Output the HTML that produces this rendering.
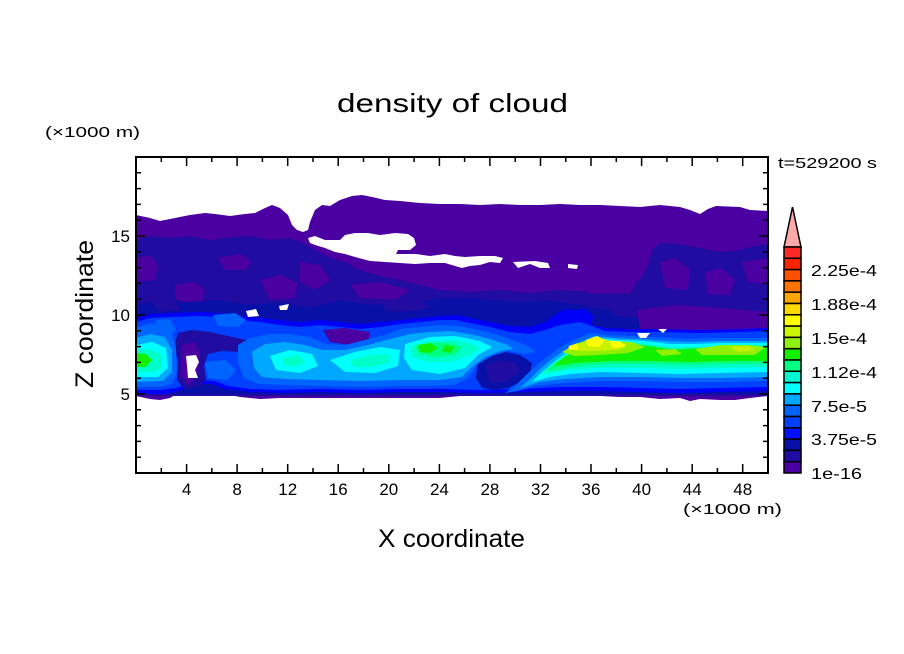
<!DOCTYPE html>
<html><head><meta charset="utf-8"><style>
html,body{margin:0;padding:0;background:#fff;}
svg{display:block;}
text{font-family:"Liberation Sans",sans-serif;fill:#000;}
</style></head><body>
<svg width="904" height="654" viewBox="0 0 904 654" xmlns="http://www.w3.org/2000/svg">
<defs><clipPath id="pc"><rect x="136" y="157" width="632" height="316"/></clipPath></defs>
<rect width="904" height="654" fill="#fff"/>
<g clip-path="url(#pc)">
<polygon fill="#4b00a2" points="136,215 150,218 160,221 175,218 190,215 205,213 215,214 230,216 245,214 255,213 265,208 272,205 280,208 288,215 292,225 297,230 303,232 308,230 310,222 315,210 322,205 330,206 340,200 352,196 362,195 372,197 385,200 400,201 420,203 440,204 460,204 480,205 500,204 520,205 540,205 560,204 580,205 600,205 620,206 640,207 660,205 680,207 690,210 700,214 708,209 716,206 740,207 750,210 768,211 768,396 750,398 735,400 720,400 700,399 690,401 680,398 660,399 640,397 620,397 600,396 585,396 570,394 555,393 540,394 520,394 500,393 480,394 460,396 440,398 420,398 400,398 380,398 360,398 340,398 320,398 300,398 280,398 260,399 240,397 225,394 218,391 212,386 205,383 195,382 185,384 178,388 175,395 170,398 160,400 150,399 136,396"/>
<polygon fill="#200ca0" points="136,240 150,236 170,238 190,236 210,240 230,237 250,236 270,240 290,238 305,244 315,250 330,258 345,262 360,270 380,276 400,280 420,285 440,290 470,292 500,290 530,293 560,290 590,292 620,288 640,280 648,265 652,250 660,243 680,244 700,248 720,252 740,250 755,246 768,244 768,396 136,396"/>
<g fill="#4b00a2">
<polygon points="136,258 150,255 158,265 155,280 136,282"/>
<polygon points="175,285 195,282 205,290 202,305 185,308 176,298"/>
<polygon points="260,280 280,275 298,283 295,298 270,300"/>
<polygon points="218,258 240,254 252,262 245,270 225,270"/>
<polygon points="300,262 320,265 330,280 315,290 300,282"/>
<polygon points="660,262 675,258 690,270 688,290 665,288"/>
<polygon points="705,272 722,268 735,280 730,295 708,294"/>
<polygon points="742,262 768,258 768,285 748,282"/>
<polygon points="577,280 600,276 637,282 630,293 590,294"/>
<polygon points="350,285 380,282 410,290 395,300 360,298"/>
</g>
<polygon fill="#0810a8" points="136,305 160,300 190,302 220,300 250,305 280,302 310,308 340,300 370,305 400,303 430,300 460,298 490,300 520,302 550,300 580,305 610,310 640,318 680,322 720,322 768,322 768,394 136,394"/>
<g fill="#200ca0">
<polygon points="150,300 175,298 180,310 160,312"/>
<polygon points="380,300 420,298 430,308 400,312 385,310"/>
<polygon points="600,300 630,302 640,318 615,316"/>
</g>
<polygon fill="#4b00a2" points="637,310 680,305 720,308 768,312 768,330 700,331 640,330"/>
<polygon fill="#0000f8" points="136,318 150,314 170,313 200,312 220,313 240,316 260,318 280,320 300,322 320,320 340,322 360,324 380,322 400,320 420,318 440,316 456,315 470,318 490,322 510,326 530,327 545,322 555,315 562,310 585,309 593,316 592,325 605,328 630,329 660,329 700,330 740,329 768,328 768,391 720,392 680,393 640,392 600,391 560,391 520,392 480,393 440,392 400,392 360,393 320,392 280,393 250,392 225,389 212,384 200,384 190,388 178,391 165,394 150,394 136,393"/>
<polygon fill="#0040ff" points="136,322 150,318 170,317 200,316 220,317 240,320 260,322 280,325 300,327 320,325 340,327 360,329 380,327 400,324 420,322 440,320 456,320 470,323 490,327 510,332 530,334 545,330 560,325 580,322 592,326 605,331 630,332 660,332 700,333 740,332 768,331 768,387 720,388 680,389 640,388 600,387 560,387 520,389 480,390 440,389 400,389 360,390 320,389 280,390 250,389 228,386 215,381 200,380 188,384 176,388 160,390 136,390"/>
<polygon fill="#200ca0" points="178,333 192,330 210,332 228,336 246,340 252,348 240,352 222,351 208,354 204,366 206,380 198,387 184,389 177,380 178,362 174,346"/>
<polygon fill="#4b00a2" points="182,345 195,342 200,355 198,375 188,385 180,375"/>
<polygon fill="#0810a8" points="478,362 490,356 505,352 520,355 532,363 530,374 520,382 508,388 494,390 482,388 476,378"/>
<polygon fill="#200ca0" points="485,365 500,360 515,362 520,372 505,382 490,382"/>
<polygon fill="#4b00a2" points="323,330 345,328 370,332 368,342 350,345 330,342"/>
<g fill="#0064ff">
<polygon points="136,328 148,324 162,323 172,332 176,348 177,372 172,384 160,387 136,387"/>
<polygon points="238,345 250,338 270,334 290,334 310,337 325,344 345,345 365,340 385,335 400,329 420,327 440,325 458,326 475,329 495,334 512,340 528,346 536,352 524,354 508,351 492,356 478,364 468,378 455,385 430,386 400,386 360,387 320,386 285,385 258,384 244,378 238,362"/>
<polygon points="505,393 515,386 525,376 536,366 548,356 562,346 576,339 590,333 610,335 630,336 650,337 670,338 690,339 720,338 745,338 768,338 768,381 720,382 680,382 640,381 600,381 565,383 535,386 518,391"/>
<polygon points="156,320 170,319 176,330 165,337 156,332"/>
<polygon points="213,315 235,313 246,320 238,327 218,326"/>
<polygon points="205,362 225,360 236,370 228,380 208,378"/>
</g>
<g fill="#00a8ff">
<polygon points="136,338 150,334 165,337 172,350 172,372 163,381 136,382"/>
<polygon points="252,352 265,344 285,342 305,345 322,350 345,350 368,345 390,339 410,334 430,332 450,331 470,334 490,339 508,345 513,349 500,351 485,357 472,367 462,377 440,380 400,380 360,381 320,380 285,379 262,377 254,368"/>
<polygon points="520,388 530,379 540,369 552,359 565,350 580,342 594,336 615,338 640,339 665,341 690,342 720,341 745,341 768,341 768,377 720,378 680,378 640,377 600,377 565,379 540,382"/>
</g>
<g fill="#00ffff">
<polygon points="136,345 152,342 166,348 168,368 158,377 136,377"/>
<polygon points="270,356 290,350 312,354 318,366 300,373 276,370"/>
<polygon points="330,360 355,352 380,347 400,350 398,366 375,373 345,372"/>
<polygon points="405,344 430,337 455,336 480,341 492,347 478,355 465,368 440,374 412,370 404,358"/>
<polygon points="532,382 542,372 554,362 567,352 582,344 595,338 620,340 645,341 670,344 695,344 720,343 745,343 768,343 768,372 720,373 680,374 640,373 600,372 570,374 550,377"/>
</g>
<g fill="#00ffc8">
<polygon points="136,350 150,349 162,355 162,368 152,372 136,372"/>
<polygon points="282,358 298,355 306,362 296,367 284,365"/>
<polygon points="350,360 370,355 388,354 390,362 372,367 354,367"/>
<polygon points="410,346 430,341 455,340 472,344 480,349 468,356 450,362 428,362 412,357"/>
<polygon points="540,375 552,364 565,355 578,347 592,341 620,342 648,344 672,347 695,347 720,346 745,345 768,345 768,367 720,368 680,369 640,368 600,368 570,370 552,373"/>
</g>
<g fill="#00ff80">
<polygon points="415,346 432,343 450,343 462,347 455,355 435,357 418,354"/>
<polygon points="545,371 558,361 572,352 586,344 620,344 650,346 675,349 700,348 725,347 768,346 768,364 725,364 690,365 650,364 610,364 580,366 560,369"/>
</g>
<g fill="#10f000">
<polygon points="136,353 146,354 152,360 146,367 136,367"/>
<polygon points="418,345 430,343 438,348 430,353 420,352"/>
<polygon points="445,345 455,347 450,353 442,351"/>
<polygon points="553,366 566,356 580,347 595,341 620,343 648,346 672,350 700,348 730,347 768,347 768,361 730,361 690,362 650,361 610,361 575,363"/>
</g>
<g fill="#90f000">
<polygon points="562,352 578,343 595,338 612,341 632,342 645,347 628,353 600,355 575,356"/>
<polygon points="695,349 722,345 748,345 766,347 755,355 725,355 702,355"/>
<polygon points="655,350 675,349 682,354 662,356"/>
</g>
<g fill="#c8f000">
<polygon points="572,347 590,340 600,338 614,342 628,344 618,350 596,351 578,351"/>
<polygon points="730,347 748,346 756,350 738,352"/>
</g>
<g fill="#ffff00">
<polygon points="586,340 597,336 605,340 599,347 588,346"/>
<polygon points="609,341 620,341 626,347 613,348"/>
<polygon points="569,346 578,343 578,350 568,350"/>
</g>
<g fill="#fff">
<polygon points="308,238 315,236 325,240 340,240 345,235 355,233 368,233 380,235 395,233 408,234 414,238 416,245 410,250 398,250 396,254 416,254 430,256 445,254 455,256 465,257 480,256 495,256 503,258 500,263 490,262 480,265 470,266 462,268 455,266 445,263 430,263 415,264 400,263 385,262 370,261 355,257 345,254 335,252 325,248 315,245 310,243"/>
<polygon points="513,262 535,261 548,263 550,268 540,268 530,264 518,268"/>
<polygon points="568,264 578,265 577,269 568,268"/>
<polygon points="246,311 256,309 259,316 248,317"/>
<polygon points="279,306 289,304 287,310 280,310"/>
<polygon points="637,333 650,333 646,338 640,338"/>
<polygon points="658,329 667,329 663,333"/>
<polygon points="186,356 196,355 199,362 195,370 198,378 188,378 187,366"/>
</g>
</g>
<rect x="136" y="157" width="632" height="316" fill="none" stroke="#000" stroke-width="2"/>
<g stroke="#000" stroke-width="1.5">
<path d="M161.3,473v-5M186.6,473v-9M211.8,473v-5M237.1,473v-9M262.4,473v-5M287.7,473v-9M313,473v-5M338.2,473v-9M363.5,473v-5M388.8,473v-9M414.1,473v-5M439.4,473v-9M464.6,473v-5M489.9,473v-9M515.2,473v-5M540.5,473v-9M565.8,473v-5M591,473v-9M616.3,473v-5M641.6,473v-9M666.9,473v-5M692.2,473v-9M717.4,473v-5M742.7,473v-9"/>
<path d="M161.3,157v5M186.6,157v9M211.8,157v5M237.1,157v9M262.4,157v5M287.7,157v9M313,157v5M338.2,157v9M363.5,157v5M388.8,157v9M414.1,157v5M439.4,157v9M464.6,157v5M489.9,157v9M515.2,157v5M540.5,157v9M565.8,157v5M591,157v9M616.3,157v5M641.6,157v9M666.9,157v5M692.2,157v9M717.4,157v5M742.7,157v9"/>
<path d="M136,457.2h5M136,441.4h5M136,425.6h5M136,409.8h5M136,394h9M136,378.2h5M136,362.4h5M136,346.6h5M136,330.8h5M136,315h9M136,299.2h5M136,283.4h5M136,267.6h5M136,251.8h5M136,236h9M136,220.2h5M136,204.4h5M136,188.6h5M136,172.8h5"/>
<path d="M768,457.2h-5M768,441.4h-5M768,425.6h-5M768,409.8h-5M768,394h-9M768,378.2h-5M768,362.4h-5M768,346.6h-5M768,330.8h-5M768,315h-9M768,299.2h-5M768,283.4h-5M768,267.6h-5M768,251.8h-5M768,236h-9M768,220.2h-5M768,204.4h-5M768,188.6h-5M768,172.8h-5"/>
</g>
<polygon points="784,247 801,247 792.5,207" fill="#ffa8a8" stroke="#000" stroke-width="1.5"/>
<g stroke="#000" stroke-width="1.5">
<rect x="784" y="247" width="17" height="11.3" fill="#ff2828"/>
<rect x="784" y="258.3" width="17" height="11.3" fill="#ff2400"/>
<rect x="784" y="269.6" width="17" height="11.3" fill="#ff5000"/>
<rect x="784" y="280.9" width="17" height="11.3" fill="#ff7400"/>
<rect x="784" y="292.2" width="17" height="11.3" fill="#ffa400"/>
<rect x="784" y="303.5" width="17" height="11.3" fill="#ffd800"/>
<rect x="784" y="314.8" width="17" height="11.3" fill="#ffff00"/>
<rect x="784" y="326.1" width="17" height="11.3" fill="#ccf500"/>
<rect x="784" y="337.4" width="17" height="11.3" fill="#90f010"/>
<rect x="784" y="348.7" width="17" height="11.3" fill="#10f000"/>
<rect x="784" y="360" width="17" height="11.3" fill="#00ff80"/>
<rect x="784" y="371.3" width="17" height="11.3" fill="#00f8d0"/>
<rect x="784" y="382.6" width="17" height="11.3" fill="#00ffff"/>
<rect x="784" y="393.9" width="17" height="11.3" fill="#00a8ff"/>
<rect x="784" y="405.2" width="17" height="11.3" fill="#0064ff"/>
<rect x="784" y="416.5" width="17" height="11.3" fill="#0040ff"/>
<rect x="784" y="427.8" width="17" height="11.3" fill="#0010ff"/>
<rect x="784" y="439.1" width="17" height="11.3" fill="#0810a8"/>
<rect x="784" y="450.4" width="17" height="11.3" fill="#200ca0"/>
<rect x="784" y="461.7" width="17" height="11.3" fill="#4b00a2"/>
</g>
<g font-size="16">
<text x="811" y="276" textLength="66" lengthAdjust="spacingAndGlyphs">2.25e-4</text>
<text x="811" y="310" textLength="66" lengthAdjust="spacingAndGlyphs">1.88e-4</text>
<text x="811" y="344" textLength="56" lengthAdjust="spacingAndGlyphs">1.5e-4</text>
<text x="811" y="378" textLength="66" lengthAdjust="spacingAndGlyphs">1.12e-4</text>
<text x="811" y="412" textLength="56" lengthAdjust="spacingAndGlyphs">7.5e-5</text>
<text x="811" y="445" textLength="66" lengthAdjust="spacingAndGlyphs">3.75e-5</text>
<text x="811" y="479" textLength="51" lengthAdjust="spacingAndGlyphs">1e-16</text>
</g>
<text x="337" y="112" font-size="26" textLength="231" lengthAdjust="spacingAndGlyphs">density of cloud</text>
<text x="45" y="137" font-size="15" textLength="95" lengthAdjust="spacingAndGlyphs">(×1000 m)</text>
<text x="778" y="168" font-size="15" textLength="99" lengthAdjust="spacingAndGlyphs">t=529200 s</text>
<g font-size="17" text-anchor="end">
<text x="130" y="242">15</text>
<text x="130" y="321">10</text>
<text x="130" y="400">5</text>
</g>
<g font-size="17" text-anchor="middle">
<text x="186.6" y="495">4</text>
<text x="237.1" y="495">8</text>
<text x="287.7" y="495">12</text>
<text x="338.2" y="495">16</text>
<text x="388.8" y="495">20</text>
<text x="439.4" y="495">24</text>
<text x="489.9" y="495">28</text>
<text x="540.5" y="495">32</text>
<text x="591" y="495">36</text>
<text x="641.6" y="495">40</text>
<text x="692.2" y="495">44</text>
<text x="742.7" y="495">48</text>
</g>
<text x="683" y="514" font-size="15" textLength="99" lengthAdjust="spacingAndGlyphs">(×1000 m)</text>
<text x="378" y="547" font-size="25" textLength="147" lengthAdjust="spacingAndGlyphs">X coordinate</text>
<text transform="translate(93,314) rotate(-90)" x="0" y="0" font-size="25" text-anchor="middle" textLength="148" lengthAdjust="spacingAndGlyphs">Z coordinate</text>
</svg>
</body></html>
